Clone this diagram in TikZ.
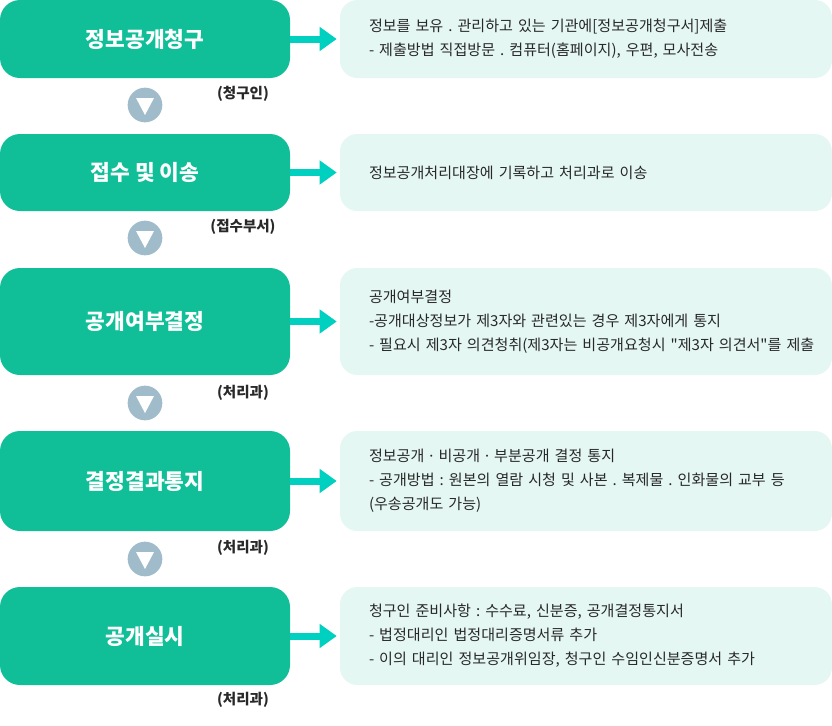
\documentclass[tikz,border=0pt]{standalone}
\usepackage{fontspec}
\setmainfont{Noto Sans CJK KR}
\newfontfamily\latinfont{Noto Sans}
\usetikzlibrary{arrows.meta, positioning, calc}
\frenchspacing
\newcommand{\mdot}{{\latinfont ·}}

\begin{document}
\begin{tikzpicture}[
    x=0.75pt, y=-0.75pt,
    font=\fontsize{11.3}{18}\selectfont,
    stepbox/.style={fill=stepgreen, rounded corners=15pt, minimum width=217.5pt,
                    inner sep=0pt, text=white, font=\bfseries\fontsize{16.1}{19}\selectfont},
    infobox/.style={fill=infomint, rounded corners=13pt, minimum width=369pt,
                    inner xsep=21.75pt, inner ysep=0pt, text width=325.5pt, align=left,
                    text=textgray},
    downmark/.style={circle, fill=markblue, minimum size=26pt, inner sep=0pt},
    deptlabel/.style={font=\bfseries\fontsize{10.9}{13}\selectfont, text=textgray},
    flowarrow/.style={draw=arrowteal, line width=5.25pt, shorten >=2.25pt,
                      -{Triangle[length=12.75pt, width=17.25pt]}},
]

% ===== Colors =====
\definecolor{stepgreen}{RGB}{16,191,152}
\definecolor{infomint}{RGB}{228,247,243}
\definecolor{arrowteal}{RGB}{0,208,192}
\definecolor{markblue}{RGB}{160,188,203}
\definecolor{textgray}{RGB}{40,40,40}

% ===== Canvas (pixels of the reference) =====
\useasboundingbox (0,0) rectangle (832,725);

% ===== Steps (left) =====
% x centre 145, box heights follow the reference rows
\node[stepbox, minimum height=58.5pt] (req)    at (145,39)    {정보공개청구};
\node[stepbox, minimum height=57.75pt] (recv)  at (145,172.5) {접수 및 이송};
\node[stepbox, minimum height=80.25pt] (decide) at (145,321.5) {공개여부결정};
\node[stepbox, minimum height=75pt] (notify)   at (145,481)   {결정결과통지};
\node[stepbox, minimum height=73.5pt] (open)   at (145,636)   {공개실시};

% ===== Descriptions (right) =====
\node[infobox, minimum height=58.5pt] (reqinfo) at (586,39) {%
    정보를 보유 . 관리하고 있는 기관에[정보공개청구서]제출\\
    - 제출방법 직접방문 . 컴퓨터(홈페이지), 우편, 모사전송};
\node[infobox, minimum height=57.75pt] (recvinfo) at (586,172.5) {%
    정보공개처리대장에 기록하고 처리과로 이송};
\node[infobox, minimum height=80.25pt] (decideinfo) at (586,321.5) {%
    공개여부결정\\
    -공개대상정보가 제3자와 관련있는 경우 제3자에게 통지\\
    \mbox{- 필요시 제3자 의견청취(제3자는 비공개요청시 \textquotedbl 제3자 의견서\textquotedbl 를 제출}};
\node[infobox, minimum height=75pt] (notifyinfo) at (586,481) {%
    정보공개 \mdot{} 비공개 \mdot{} 부분공개 결정 통지\\
    - 공개방법 : 원본의 열람 시청 및 사본 . 복제물 . 인화물의 교부 등\\
    (우송공개도 가능)};
\node[infobox, minimum height=73.5pt] (openinfo) at (586,636) {%
    청구인 준비사항 : 수수료, 신분증, 공개결정통지서\\
    - 법정대리인 법정대리증명서류 추가\\
    - 이의 대리인 정보공개위임장, 청구인 수임인신분증명서 추가};

% ===== Arrows step -> description =====
\foreach \s in {req, recv, decide, notify, open}
    \draw[flowarrow] (\s.east) -- (\s info.west);

% ===== Department labels =====
\node[deptlabel] (reqby)    at (243,94)  {(청구인)};
\node[deptlabel] (recvby)   at (243,227) {(접수부서)};
\node[deptlabel] (decideby) at (243,393) {(처리과)};
\node[deptlabel] (notifyby) at (243,548) {(처리과)};
\node[deptlabel] (openby)   at (243,700) {(처리과)};

% ===== Down marks between steps =====
\foreach \m/\y in {m1/105, m2/238, m3/403, m4/559} {
    \node[downmark] (\m) at (145,\y) {};
    \fill[white] ($(\m.center)+(-9,-7)$) -- ($(\m.center)+(9,-7)$) -- ($(\m.center)+(0,10)$) -- cycle;
}

\end{tikzpicture}
\end{document}
